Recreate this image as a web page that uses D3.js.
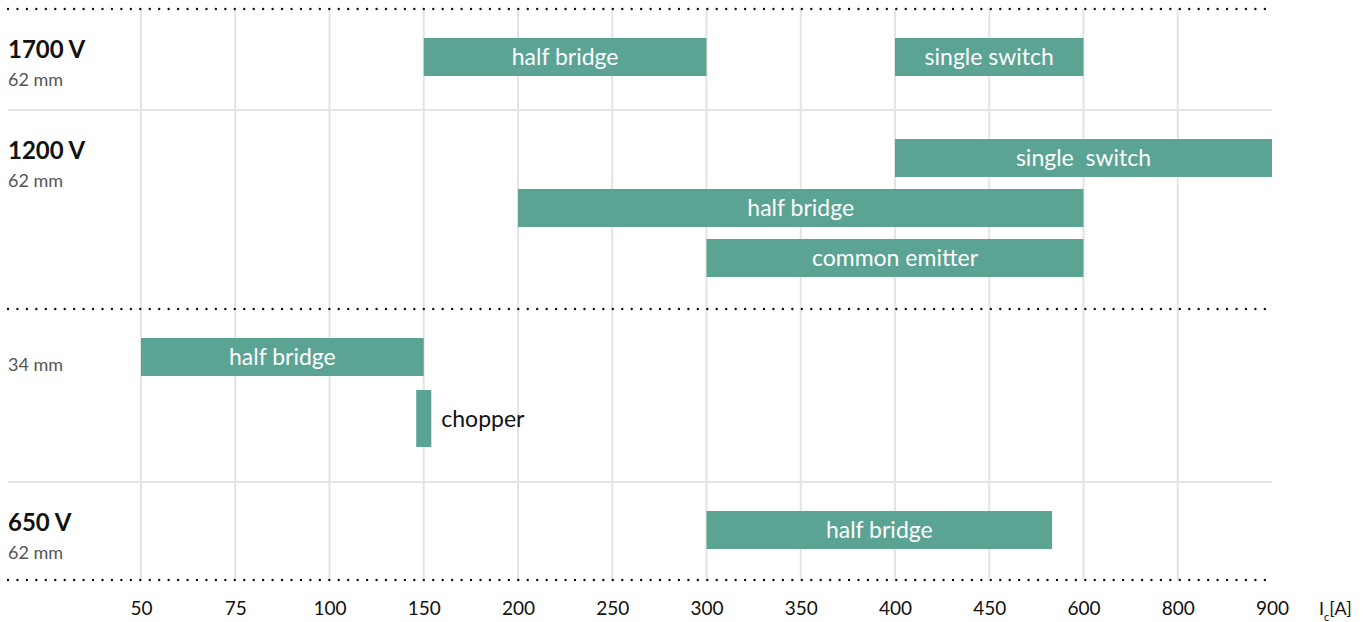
<!DOCTYPE html>
<html>
<head>
<meta charset="utf-8">
<script src="https://cdn.jsdelivr.net/npm/d3@7"></script>
<style>
  html, body { margin: 0; padding: 0; background: #fff; }
  svg { display: block; font-family: "Source Sans Pro", Lato, "Open Sans", sans-serif; }
</style>
</head>
<body>
<div id="chart"></div>
<script>
// --- Data ---
const tickValues = [50, 75, 100, 150, 200, 250, 300, 350, 400, 450, 600, 800, 900];
const gridValues = [50, 75, 100, 150, 200, 250, 300, 350, 400, 450, 600, 800];

const groupVoltage = ['1700 V', '1200 V', '', '650 V'];
const groupSize = ['62 mm', '62 mm', '34 mm', '62 mm'];
const groupLanes = [1, 3, 2, 1];

const barLabel = ['half bridge', 'single switch', 'single  switch', 'half bridge', 'common emitter', 'half bridge', 'chopper', 'half bridge'];
const barGroup = [0, 0, 1, 1, 1, 2, 2, 3];
const barLane = [0, 0, 0, 1, 2, 0, 1, 0];
const barStart = [150, 400, 400, 200, 300, 50, 146, 300];
const barEnd = [300, 600, 900, 600, 600, 150, 154, 550];
const barNarrow = [false, false, false, false, false, false, true, false];

// --- Layout ---
const width = 1367, height = 622;
const left = 8, right = 1272;
const xStart = 141, xEnd = 1272;
const groupBounds = [9, 110, 309, 482, 580];
const lanePad = 29, laneStep = 50, barH = 38;
const barColor = '#5ba393';
const gridColor = '#e6e3e3';

const svg = d3.select('#chart').append('svg')
  .attr('width', width)
  .attr('height', height);

// piecewise x scale: ticks evenly spaced
const step = (xEnd - xStart) / (tickValues.length - 1);
const x = d3.scaleLinear()
  .domain(tickValues)
  .range(tickValues.map((d, i) => xStart + i * step));

const laneTop = (g, l) => groupBounds[g] + lanePad + l * laneStep;

// vertical grid
svg.append('g').selectAll('line')
  .data(gridValues)
  .join('line')
  .attr('x1', d => x(d)).attr('x2', d => x(d))
  .attr('y1', groupBounds[0]).attr('y2', groupBounds[4])
  .attr('stroke', gridColor).attr('stroke-width', 2);

// solid separators
svg.append('g').selectAll('line')
  .data([groupBounds[1], groupBounds[3]])
  .join('line')
  .attr('x1', left).attr('x2', right)
  .attr('y1', d => d).attr('y2', d => d)
  .attr('stroke', gridColor).attr('stroke-width', 2);

// dotted separators
svg.append('g').selectAll('line')
  .data([groupBounds[0], groupBounds[2], groupBounds[4]])
  .join('line')
  .attr('x1', left).attr('x2', right - 3)
  .attr('y1', d => d).attr('y2', d => d)
  .attr('stroke', '#111').attr('stroke-width', 2.4)
  .attr('stroke-linecap', 'round')
  .attr('stroke-dasharray', '0 9.45');

// bars
const bars = barLabel.map((label, i) => ({
  label, g: barGroup[i], l: barLane[i], s: barStart[i], e: barEnd[i], narrow: barNarrow[i]
}));

const barG = svg.append('g');
barG.selectAll('rect')
  .data(bars)
  .join('rect')
  .attr('x', d => x(d.s))
  .attr('width', d => x(d.e) - x(d.s))
  .attr('y', d => laneTop(d.g, d.l) + (d.narrow ? 2 : 0))
  .attr('height', d => d.narrow ? barH * 1.5 : barH)
  .attr('fill', barColor);

barG.selectAll('text')
  .data(bars)
  .join('text')
  .attr('x', d => d.narrow ? x(d.e) + 10 : (x(d.s) + x(d.e)) / 2)
  .attr('y', d => laneTop(d.g, d.l) + (d.narrow ? barH * 0.75 + 2 : barH / 2) + 8)
  .attr('text-anchor', d => d.narrow ? 'start' : 'middle')
  .attr('fill', d => d.narrow ? '#111' : '#fff')
  .style('white-space', 'pre')
  .style('font-size', '23px')
  .text(d => d.label);

// group labels
const labelG = svg.append('g');
groupSize.forEach((size, g) => {
  const mid = laneTop(g, 0) + barH / 2;
  if (groupVoltage[g]) {
    labelG.append('text')
      .attr('x', left).attr('y', mid + 1)
      .attr('fill', '#111')
      .style('font-size', '24px').style('font-weight', 'bold')
      .text(groupVoltage[g]);
    labelG.append('text')
      .attr('x', left).attr('y', mid + 29)
      .attr('fill', '#555')
      .style('font-size', '18px')
      .text(size);
  } else {
    labelG.append('text')
      .attr('x', left).attr('y', mid + 14)
      .attr('fill', '#555')
      .style('font-size', '18px')
      .text(size);
  }
});

// x axis labels
const axis = svg.append('g')
  .attr('transform', `translate(0, ${groupBounds[4] + 35})`)
  .call(d3.axisBottom(x).tickValues(tickValues).tickSize(0).tickPadding(0).tickFormat(d3.format('d')));
axis.select('.domain').remove();
axis.selectAll('text')
  .attr('dy', 0)
  .attr('fill', '#111')
  .style('font-size', '19px')
  .style('font-family', '"Source Sans Pro", Lato, "Open Sans", sans-serif');

// unit label
const unit = svg.append('text')
  .attr('x', 1319).attr('y', groupBounds[4] + 35)
  .attr('fill', '#111')
  .style('font-size', '18px');
unit.append('tspan').text('I');
unit.append('tspan').attr('dy', 6).style('font-size', '11px').text('c');
unit.append('tspan').attr('dy', -6).text('[A]');
</script>
</body>
</html>
